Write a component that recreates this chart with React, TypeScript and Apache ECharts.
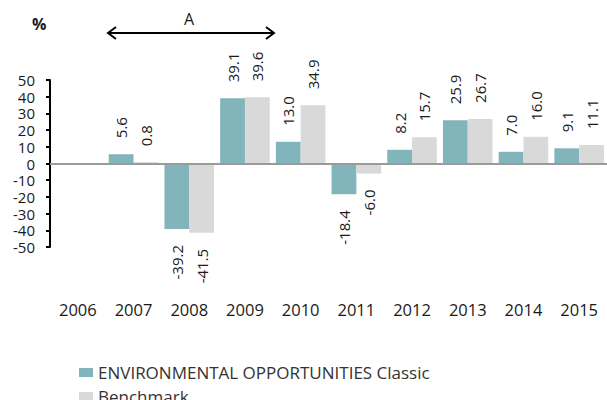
import React, { useEffect, useRef } from "react";
import * as echarts from "echarts";

const years = ["2006", "2007", "2008", "2009", "2010", "2011", "2012", "2013", "2014", "2015"];
const fundValues: (number | null)[] = [null, 5.6, -39.2, 39.1, 13.0, -18.4, 8.2, 25.9, 7.0, 9.1];
const benchValues: (number | null)[] = [null, 0.8, -41.5, 39.6, 34.9, -6.0, 15.7, 26.7, 16.0, 11.1];
const seriesNames = ["ENVIRONMENTAL OPPORTUNITIES Classic", "Benchmark"];
const yTicks = [-50, -40, -30, -20, -10, 0, 10, 20, 30, 40, 50];

const FONT = "Open Sans";
const TEXT = "#1a1a1a";

function toData(vals: (number | null)[]) {
  return vals.map((v) => {
    if (v === null) return { value: null };
    if (v < 0) {
      return {
        value: v,
        label: { position: "bottom", align: "right" },
      };
    }
    return { value: v };
  });
}

export default function App() {
  const ref = useRef<HTMLDivElement>(null);
  useEffect(() => {
    if (!ref.current) return;
    const chart = echarts.init(ref.current, undefined, { renderer: "svg" });
    const labelCfg = {
      show: true,
      position: "top",
      rotate: 90,
      align: "left",
      verticalAlign: "middle",
      distance: 16,
      fontFamily: FONT,
      fontSize: 15,
      color: TEXT,
      formatter: (p: any) => (p.value == null ? "" : Number(p.value).toFixed(1)),
    };
    const legendBase = {
      orient: "vertical",
      left: 74,
      itemWidth: 14,
      itemHeight: 9,
      icon: "rect",
      textStyle: { fontFamily: FONT, fontSize: 17, color: "#333" },
    };
    chart.setOption({
      animation: false,
      grid: { left: 50, right: -6, top: 80, bottom: 153, containLabel: false },
      legend: [
        { ...legendBase, top: 359, data: [seriesNames[0]] },
        { ...legendBase, top: 383, data: [seriesNames[1]] },
      ],
      xAxis: {
        type: "category",
        data: years,
        axisLine: { show: false, onZero: false },
        axisTick: { show: false },
        axisLabel: { margin: 54, fontFamily: FONT, fontSize: 16.5, color: TEXT },
      },
      yAxis: {
        type: "value",
        min: yTicks[0],
        max: yTicks[yTicks.length - 1],
        interval: 10,
        axisLine: { show: true, lineStyle: { color: "#000", width: 2 } },
        axisTick: { show: true, length: 4, lineStyle: { color: "#000", width: 2 } },
        splitLine: { show: false },
        axisLabel: { margin: 15, fontFamily: FONT, fontSize: 15, color: TEXT, lineHeight: 15 },
      },
      series: [
        {
          name: seriesNames[0],
          type: "bar",
          data: toData(fundValues),
          itemStyle: { color: "#82B4BB" },
          barGap: "0%",
          barCategoryGap: "11%",
          label: labelCfg,
          markLine: {
            silent: true,
            symbol: "none",
            label: { show: false },
            lineStyle: { color: "#9a9a9a", width: 2, type: "solid" },
            data: [{ yAxis: 0 }],
          },
        },
        {
          name: seriesNames[1],
          type: "bar",
          data: toData(benchValues),
          itemStyle: { color: "#D9D9D9" },
          barGap: "0%",
          barCategoryGap: "11%",
          label: labelCfg,
        },
      ],
      graphic: [
        {
          type: "text",
          left: 32,
          top: 16,
          style: { text: "%", font: `bold 16px ${FONT}`, fill: TEXT },
        },
        {
          type: "text",
          left: 184,
          top: 11,
          style: { text: "A", font: `16px ${FONT}`, fill: TEXT },
        },
        {
          type: "line",
          shape: { x1: 108, y1: 33, x2: 274, y2: 33 },
          style: { stroke: "#000", lineWidth: 2 },
        },
        {
          type: "polyline",
          shape: { points: [[116, 27], [108, 33], [116, 39]] },
          style: { stroke: "#000", lineWidth: 2, fill: "none" },
        },
        {
          type: "polyline",
          shape: { points: [[266, 27], [274, 33], [266, 39]] },
          style: { stroke: "#000", lineWidth: 2, fill: "none" },
        },
      ],
    });
    return () => chart.dispose();
  }, []);
  return (
    <div
      ref={ref}
      style={{ position: "absolute", left: 0, top: 0, width: 607, height: 400 }}
    />
  );
}
